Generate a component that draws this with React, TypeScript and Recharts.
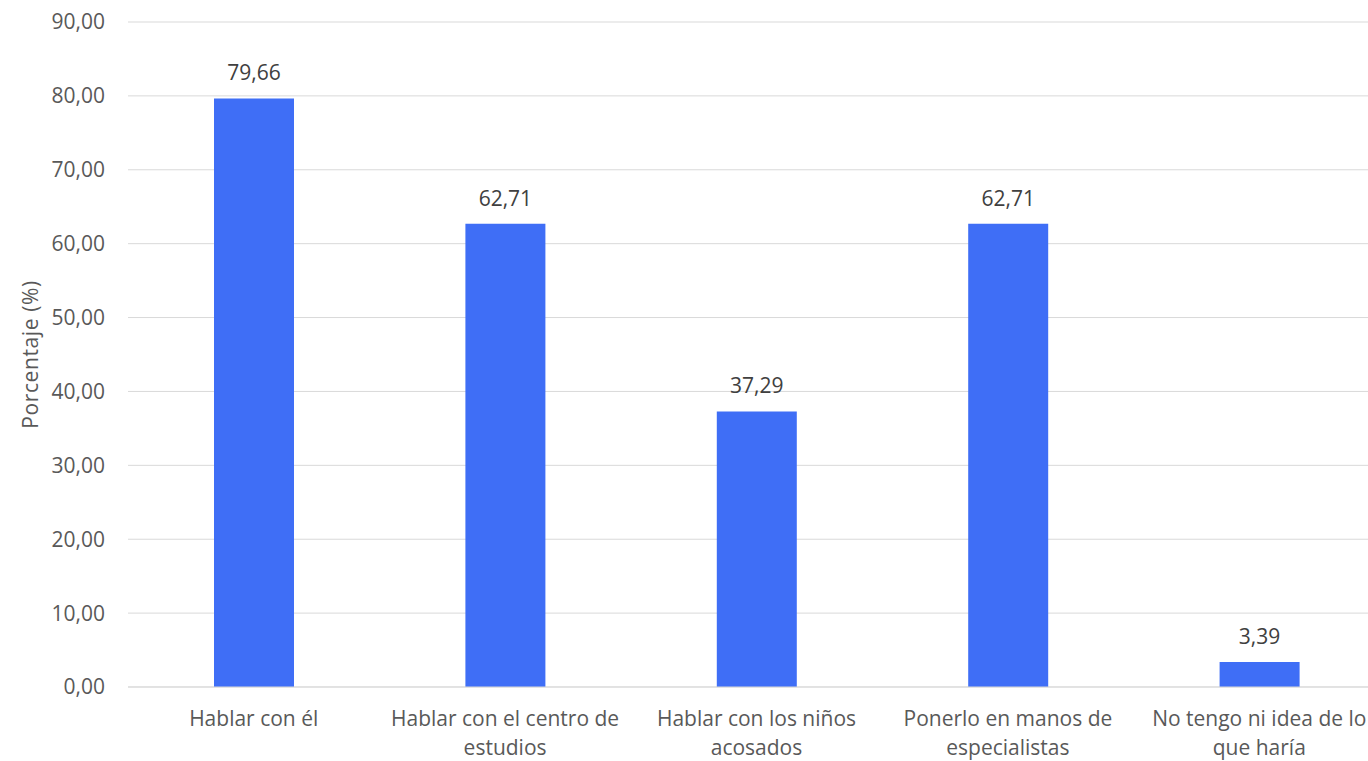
import React from 'react';
import { BarChart, Bar, XAxis, YAxis, CartesianGrid, LabelList } from 'recharts';

const categories = [
  'Hablar con él',
  'Hablar con el centro de estudios',
  'Hablar con los niños acosados',
  'Ponerlo en manos de especialistas',
  'No tengo ni idea de lo que haría',
];
const tickLines = [
  ['Hablar con él'],
  ['Hablar con el centro de', 'estudios'],
  ['Hablar con los niños', 'acosados'],
  ['Ponerlo en manos de', 'especialistas'],
  ['No tengo ni idea de lo', 'que haría'],
];
const percentages = [79.66, 62.71, 37.29, 62.71, 3.39];
const yTicks = [0, 10, 20, 30, 40, 50, 60, 70, 80, 90];

const FONT = '"Open Sans", "Noto Sans", sans-serif';
const fmt = (v: number) => v.toFixed(2).replace('.', ',');

const data = categories.map((name, i) => ({ name, value: percentages[i] }));

function CategoryTick(props: any) {
  const { x, y, index } = props;
  const lines = tickLines[index] || [];
  return (
    <text x={x} y={y} textAnchor="middle" fill="#595959" fontSize={21} fontFamily={FONT}>
      {lines.map((l, i) => (
        <tspan key={i} x={x} dy={i === 0 ? 31 : 29}>
          {l}
        </tspan>
      ))}
    </text>
  );
}

export default function App() {
  return (
    <div style={{ position: 'absolute', left: 0, top: 0, width: 1368, height: 761, overflow: 'hidden', background: '#fff' }}>
      <BarChart
        width={1400}
        height={761}
        data={data}
        margin={{ top: 22, right: 15, bottom: 0, left: 0 }}
      >
        <CartesianGrid vertical={false} stroke="#d9d9d9" />
        <XAxis
          dataKey="name"
          height={74}
          interval={0}
          tickLine={false}
          axisLine={{ stroke: '#d9d9d9' }}
          tick={<CategoryTick />}
        />
        <YAxis
          width={128}
          domain={[0, 90]}
          ticks={yTicks}
          tickFormatter={fmt}
          tickLine={false}
          axisLine={false}
          tickSize={0}
          tickMargin={23}
          tick={{ fill: '#595959', fontSize: 21, fontFamily: FONT }}
          label={{
            content: (p: any) => {
              const vb = p.viewBox;
              const cy = vb.y + vb.height / 2;
              return (
                <text
                  x={30}
                  y={cy}
                  transform={`rotate(-90, 30, ${cy})`}
                  textAnchor="middle"
                  dominantBaseline="central"
                  fill="#595959"
                  fontSize={21}
                  letterSpacing={0.6}
                  fontFamily={FONT}
                >
                  Porcentaje (%)
                </text>
              );
            },
          }}
        />
        <Bar dataKey="value" fill="#3F6EF6" barSize={80} isAnimationActive={false}>
          <LabelList
            dataKey="value"
            position="top"
            offset={18}
            formatter={(v: any) => fmt(Number(v))}
            style={{ fill: '#404040', fontSize: 21, fontFamily: FONT }}
          />
        </Bar>
      </BarChart>
    </div>
  );
}
